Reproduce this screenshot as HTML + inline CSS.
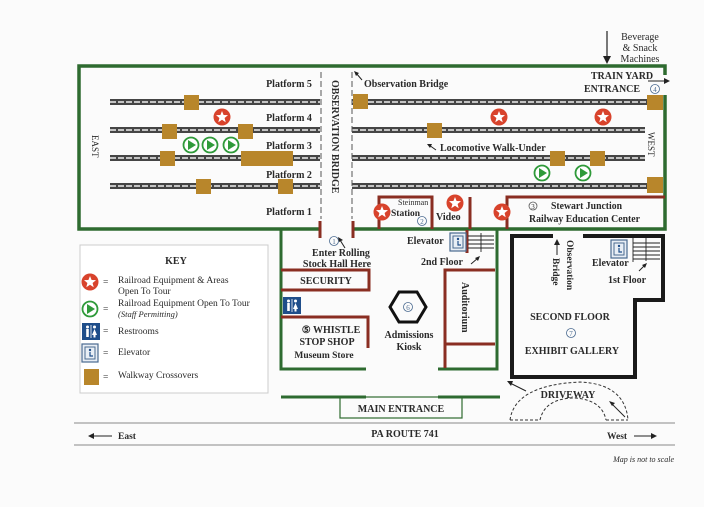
<!DOCTYPE html>
<html><head><meta charset="utf-8"><style>
html,body{margin:0;padding:0;background:#fbfbfb;}
svg{display:block;font-family:"Liberation Serif",serif;}
text{fill:#2a2a2a;}
</style></head><body>
<svg width="704" height="507" viewBox="0 0 704 507" xmlns="http://www.w3.org/2000/svg">
<defs>
<g id="star"><circle r="8.5" fill="#d8432c"/><polygon fill="#fff" points="0,-6 1.6,-2 6,-1.9 2.6,1 3.7,5.2 0,2.8 -3.7,5.2 -2.6,1 -6,-1.9 -1.6,-2"/></g>
<g id="go"><circle r="7.5" fill="#fff" stroke="#2f9a3a" stroke-width="1.8"/><polygon fill="#2f9a3a" points="-3,-5 5,0 -3,5"/></g>
<g id="elev"><rect x="0" y="0" width="16" height="18" fill="#e8eef5" stroke="#4a6a90" stroke-width="1.2"/><rect x="3" y="3" width="10" height="12" fill="none" stroke="#4a6a90"/><circle cx="8" cy="6" r="1.2" fill="#1f4e8a"/><path d="M8 8v4h3" stroke="#1f4e8a" fill="none" stroke-width="1.2"/></g>
<g id="rest"><rect width="18" height="17" fill="#1f4e8a"/><circle cx="5.5" cy="4" r="1.5" fill="#fff"/><rect x="4.2" y="6" width="2.6" height="8" fill="#fff"/><rect x="8.6" y="2" width="0.8" height="13" fill="#fff"/><circle cx="12.5" cy="4" r="1.5" fill="#fff"/><polygon points="12.5,6 15,12 10,12" fill="#fff"/><rect x="11.5" y="11" width="2" height="3.5" fill="#fff"/></g>
</defs>

<!-- Beverage -->
<text x="640" y="40" font-size="10" text-anchor="middle">Beverage</text>
<text x="640" y="51" font-size="10" text-anchor="middle">&amp; Snack</text>
<text x="640" y="62" font-size="10" text-anchor="middle">Machines</text>
<line x1="607" y1="31" x2="607" y2="58" stroke="#222" stroke-width="1.2"/>
<polygon points="603,56 611,56 607,64" fill="#222"/>

<!-- outer frame -->
<g stroke="#2e6b30" stroke-width="3.5" fill="none">
<polyline points="665,75 665,66 79,66 79,229 320,229"/>
<polyline points="353,229 665,229 665,95"/>
</g>
<!-- tracks -->
<g stroke-linecap="butt">
<g stroke="#454545" stroke-width="6">
<line x1="110" y1="102" x2="320" y2="102"/><line x1="352" y1="102" x2="650" y2="102"/>
<line x1="110" y1="130" x2="320" y2="130"/><line x1="352" y1="130" x2="645" y2="130"/>
<line x1="110" y1="158" x2="320" y2="158"/><line x1="352" y1="158" x2="645" y2="158"/>
<line x1="110" y1="186" x2="320" y2="186"/><line x1="352" y1="186" x2="650" y2="186"/>
</g>
<g stroke="#eee" stroke-width="1.6" stroke-dasharray="6 2">
<line x1="110" y1="102" x2="320" y2="102"/><line x1="352" y1="102" x2="650" y2="102"/>
<line x1="110" y1="130" x2="320" y2="130"/><line x1="352" y1="130" x2="645" y2="130"/>
<line x1="110" y1="158" x2="320" y2="158"/><line x1="352" y1="158" x2="645" y2="158"/>
<line x1="110" y1="186" x2="320" y2="186"/><line x1="352" y1="186" x2="650" y2="186"/>
</g>
</g>
<!-- observation bridge dashed -->
<g stroke="#555" stroke-width="1" stroke-dasharray="6 3">
<line x1="321" y1="72" x2="321" y2="219"/><line x1="352" y1="72" x2="352" y2="219"/>
</g>
<text transform="translate(332,80) rotate(90)" font-size="10" font-weight="bold">OBSERVATION BRIDGE</text>
<text transform="translate(92,135) rotate(90)" font-size="9">EAST</text>
<text transform="translate(648,132) rotate(90)" font-size="9">WEST</text>

<!-- crossovers -->
<g fill="#b8862b">
<rect x="184" y="95" width="15" height="15"/><rect x="162" y="124" width="15" height="15"/><rect x="238" y="124" width="15" height="15"/>
<rect x="160" y="151" width="15" height="15"/><rect x="241" y="151" width="52" height="15"/>
<rect x="196" y="179" width="15" height="15"/><rect x="278" y="179" width="15" height="15"/>
<rect x="353" y="94" width="15" height="15"/><rect x="427" y="123" width="15" height="15"/>
<rect x="550" y="151" width="15" height="15"/><rect x="590" y="151" width="15" height="15"/>
<rect x="647" y="95" width="16" height="15"/><rect x="647" y="177" width="16" height="16"/>
</g>
<use href="#star" x="222" y="117"/><use href="#star" x="499" y="117"/><use href="#star" x="603" y="117"/>
<use href="#go" x="191" y="145"/><use href="#go" x="210" y="145"/><use href="#go" x="231" y="145"/>
<use href="#go" x="542" y="173"/><use href="#go" x="583" y="173"/>

<g font-size="10" font-weight="bold" text-anchor="middle">
<text x="289" y="87">Platform 5</text><text x="289" y="121">Platform 4</text><text x="289" y="149">Platform 3</text>
<text x="289" y="178">Platform 2</text><text x="289" y="215">Platform 1</text>
</g>
<text x="364" y="87" font-size="10" font-weight="bold">Observation Bridge</text>
<line x1="362" y1="80" x2="356" y2="73" stroke="#222"/><polygon points="354,71 359,73 356,76" fill="#222"/>
<text x="440" y="151" font-size="10" font-weight="bold">Locomotive Walk-Under</text>
<line x1="436" y1="150" x2="429" y2="145" stroke="#222"/><polygon points="427,144 432,144 430,148" fill="#222"/>
<text x="622" y="79" font-size="10" font-weight="bold" text-anchor="middle">TRAIN YARD</text>
<text x="612" y="92" font-size="10" font-weight="bold" text-anchor="middle">ENTRANCE</text>
<circle cx="655" cy="89" r="4.5" fill="none" stroke="#4a6a90" stroke-width="0.8"/><text x="655" y="92" font-size="7" text-anchor="middle" style="fill:#4a6a90">4</text>
<line x1="648" y1="81" x2="666" y2="81" stroke="#222"/><polygon points="664,78 670,81 664,84" fill="#222"/>

<!-- brown rooms bottom of yard -->
<g stroke="#8a2e22" stroke-width="3" fill="none">
<line x1="320" y1="221" x2="320" y2="238"/><line x1="353" y1="221" x2="353" y2="238"/>
<polyline points="379,229 379,197 432,197 432,229"/>
<line x1="470" y1="197" x2="470" y2="229"/>
<polyline points="507,229 507,197 665,197"/>
</g>
<use href="#star" x="382" y="212"/><use href="#star" x="455" y="203"/><use href="#star" x="502" y="212"/>
<text x="398" y="205" font-size="8">Steinman</text><text x="391" y="216" font-size="9.5" font-weight="bold">Station</text>
<circle cx="422" cy="221" r="4.5" fill="none" stroke="#4a6a90" stroke-width="0.8"/><text x="422" y="224" font-size="7" text-anchor="middle" style="fill:#4a6a90">2</text>
<text x="436" y="220" font-size="10" font-weight="bold">Video</text>
<circle cx="533" cy="206" r="4" fill="none" stroke="#555" stroke-width="0.8"/><text x="533" y="209" font-size="7" text-anchor="middle">3</text>
<text x="551" y="209" font-size="10" font-weight="bold" textLength="71" lengthAdjust="spacingAndGlyphs">Stewart Junction</text>
<text x="529" y="222" font-size="10" font-weight="bold" textLength="111" lengthAdjust="spacingAndGlyphs">Railway Education Center</text>

<!-- lower building green -->
<g stroke="#2e6b30" stroke-width="3" fill="none">
<polyline points="281,229 281,369 366,369"/>
<polyline points="497,229 497,369 438,369"/>
<line x1="281" y1="397" x2="366" y2="397"/><line x1="438" y1="397" x2="500" y2="397"/>
</g>
<rect x="340" y="397" width="122" height="21" fill="none" stroke="#2e6b30" stroke-width="1.2"/>
<text x="401" y="412" font-size="10" font-weight="bold" text-anchor="middle">MAIN ENTRANCE</text>
<g stroke="#8a2e22" stroke-width="3" fill="none">
<polyline points="281,270 369,270 369,290 281,290"/>
<polyline points="281,317 368,317 368,348"/>
<polyline points="495,270 445,270 445,368"/>
<line x1="445" y1="344" x2="495" y2="344"/>
<line x1="467" y1="230" x2="467" y2="253"/>
</g>
<text x="326" y="284" font-size="10" font-weight="bold" text-anchor="middle">SECURITY</text>
<use href="#rest" x="283" y="297"/>
<text x="331" y="333" font-size="10" font-weight="bold" text-anchor="middle">⑤ WHISTLE</text>
<text x="327" y="345" font-size="10" font-weight="bold" text-anchor="middle">STOP SHOP</text>
<text x="324" y="358" font-size="9.5" font-weight="bold" text-anchor="middle">Museum Store</text>
<polygon points="399,292 417,292 426,307 417,322 399,322 390,307" fill="none" stroke="#111" stroke-width="3"/>
<circle cx="408" cy="307" r="4.5" fill="none" stroke="#4a6a90" stroke-width="0.8"/><text x="408" y="310" font-size="7" text-anchor="middle" style="fill:#4a6a90">6</text>
<text x="409" y="338" font-size="10" font-weight="bold" text-anchor="middle">Admissions</text>
<text x="409" y="350" font-size="10" font-weight="bold" text-anchor="middle">Kiosk</text>
<text transform="translate(462,282) rotate(90)" font-size="10" font-weight="bold">Auditorium</text>
<circle cx="334" cy="241" r="4.5" fill="none" stroke="#4a6a90" stroke-width="0.8"/><text x="334" y="244" font-size="7" text-anchor="middle" style="fill:#4a6a90">1</text>
<line x1="345" y1="248" x2="340" y2="240" stroke="#222"/><polygon points="338,237 343,240 339,242" fill="#222"/>
<text x="341" y="256" font-size="10" font-weight="bold" text-anchor="middle">Enter Rolling</text>
<text x="337" y="267" font-size="10" font-weight="bold" text-anchor="middle">Stock Hall Here</text>
<text x="407" y="244" font-size="10" font-weight="bold">Elevator</text>
<use href="#elev" x="450" y="233"/>
<g stroke="#222" stroke-width="0.9"><line x1="468" y1="236" x2="494" y2="236"/><line x1="468" y1="240" x2="494" y2="240"/><line x1="468" y1="244" x2="494" y2="244"/><line x1="468" y1="248" x2="494" y2="248"/><line x1="481" y1="233" x2="481" y2="252"/></g>
<text x="421" y="265" font-size="10" font-weight="bold">2nd Floor</text>
<line x1="471" y1="264" x2="478" y2="258" stroke="#222"/><polygon points="480,256 478,261 475,258" fill="#222"/>

<!-- second floor building -->
<g stroke="#1a1a1a" stroke-width="4" fill="none">
<polyline points="553,236 512,236 512,377 635,377 635,300 663,300 663,236 583,236"/>
</g>
<line x1="557" y1="255" x2="557" y2="243" stroke="#222"/><polygon points="554,245 560,245 557,239" fill="#222"/>
<text transform="translate(567,240) rotate(90)" font-size="9.5" font-weight="bold">Observation</text>
<text transform="translate(553,258) rotate(90)" font-size="9.5" font-weight="bold">Bridge</text>
<use href="#elev" x="611" y="240"/>
<g stroke="#222" stroke-width="0.9"><line x1="633" y1="243" x2="660" y2="243"/><line x1="633" y1="247" x2="660" y2="247"/><line x1="633" y1="251" x2="660" y2="251"/><line x1="633" y1="255" x2="660" y2="255"/><line x1="633" y1="259" x2="660" y2="259"/><line x1="646" y1="238" x2="646" y2="261"/><line x1="633" y1="238" x2="633" y2="262"/></g>
<text x="592" y="266" font-size="10" font-weight="bold">Elevator</text>
<text x="608" y="283" font-size="10" font-weight="bold">1st Floor</text>
<line x1="639" y1="271" x2="645" y2="265" stroke="#222"/><polygon points="647,263 645,268 642,265" fill="#222"/>
<text x="570" y="320" font-size="10" font-weight="bold" text-anchor="middle">SECOND FLOOR</text>
<circle cx="571" cy="333" r="4.5" fill="none" stroke="#4a6a90" stroke-width="0.8"/><text x="571" y="336" font-size="7" text-anchor="middle" style="fill:#4a6a90">7</text>
<text x="572" y="354" font-size="10" font-weight="bold" text-anchor="middle">EXHIBIT GALLERY</text>

<!-- driveway -->
<g stroke="#333" stroke-width="1" fill="none" stroke-dasharray="3 2">
<path d="M510 420 Q515 385 580 382 Q625 384 628 420"/>
<path d="M540 420 Q545 398 575 398 Q602 400 606 420"/>
<line x1="510" y1="420" x2="540" y2="420"/><line x1="606" y1="420" x2="628" y2="420"/>
</g>
<text x="568" y="398" font-size="10" font-weight="bold" text-anchor="middle">DRIVEWAY</text>
<line x1="526" y1="391" x2="510" y2="383" stroke="#222"/><polygon points="507,381 513,381 511,386" fill="#222"/>
<line x1="625" y1="417" x2="612" y2="404" stroke="#222"/><polygon points="609,401 615,403 612,406" fill="#222"/>

<!-- road -->
<line x1="74" y1="423" x2="675" y2="423" stroke="#888" stroke-width="1"/>
<line x1="74" y1="445" x2="675" y2="445" stroke="#888" stroke-width="1"/>
<text x="405" y="437" font-size="10" font-weight="bold" text-anchor="middle">PA ROUTE 741</text>
<text x="118" y="439" font-size="9.5" font-weight="bold">East</text>
<line x1="91" y1="436" x2="112" y2="436" stroke="#222"/><polygon points="88,436 94,433 94,439" fill="#222"/>
<text x="607" y="439" font-size="9.5" font-weight="bold">West</text>
<line x1="634" y1="436" x2="653" y2="436" stroke="#222"/><polygon points="657,436 651,433 651,439" fill="#222"/>
<text x="674" y="462" font-size="8" font-style="italic" text-anchor="end">Map is not to scale</text>

<!-- key -->
<rect x="80" y="245" width="188" height="148" fill="#fff" stroke="#ccc" stroke-width="1"/>
<text x="176" y="264" font-size="10" font-weight="bold" text-anchor="middle">KEY</text>
<use href="#star" x="90" y="282"/>
<g font-size="9.5">
<text x="103" y="285">=</text><text x="118" y="283">Railroad Equipment &amp; Areas</text><text x="118" y="294">Open To Tour</text>
<text x="103" y="312">=</text><text x="118" y="306">Railroad Equipment Open To Tour</text><text x="118" y="317" font-style="italic" font-size="8.5">(Staff Permitting)</text>
<text x="103" y="334">=</text><text x="118" y="334">Restrooms</text>
<text x="103" y="356">=</text><text x="118" y="355">Elevator</text>
<text x="103" y="380">=</text><text x="118" y="378">Walkway Crossovers</text>
</g>
<use href="#go" x="90" y="309"/>
<use href="#rest" x="82" y="323"/>
<use href="#elev" x="82" y="344"/>
<rect x="84" y="369" width="15" height="16" fill="#b8862b"/>
</svg>
</body></html>
